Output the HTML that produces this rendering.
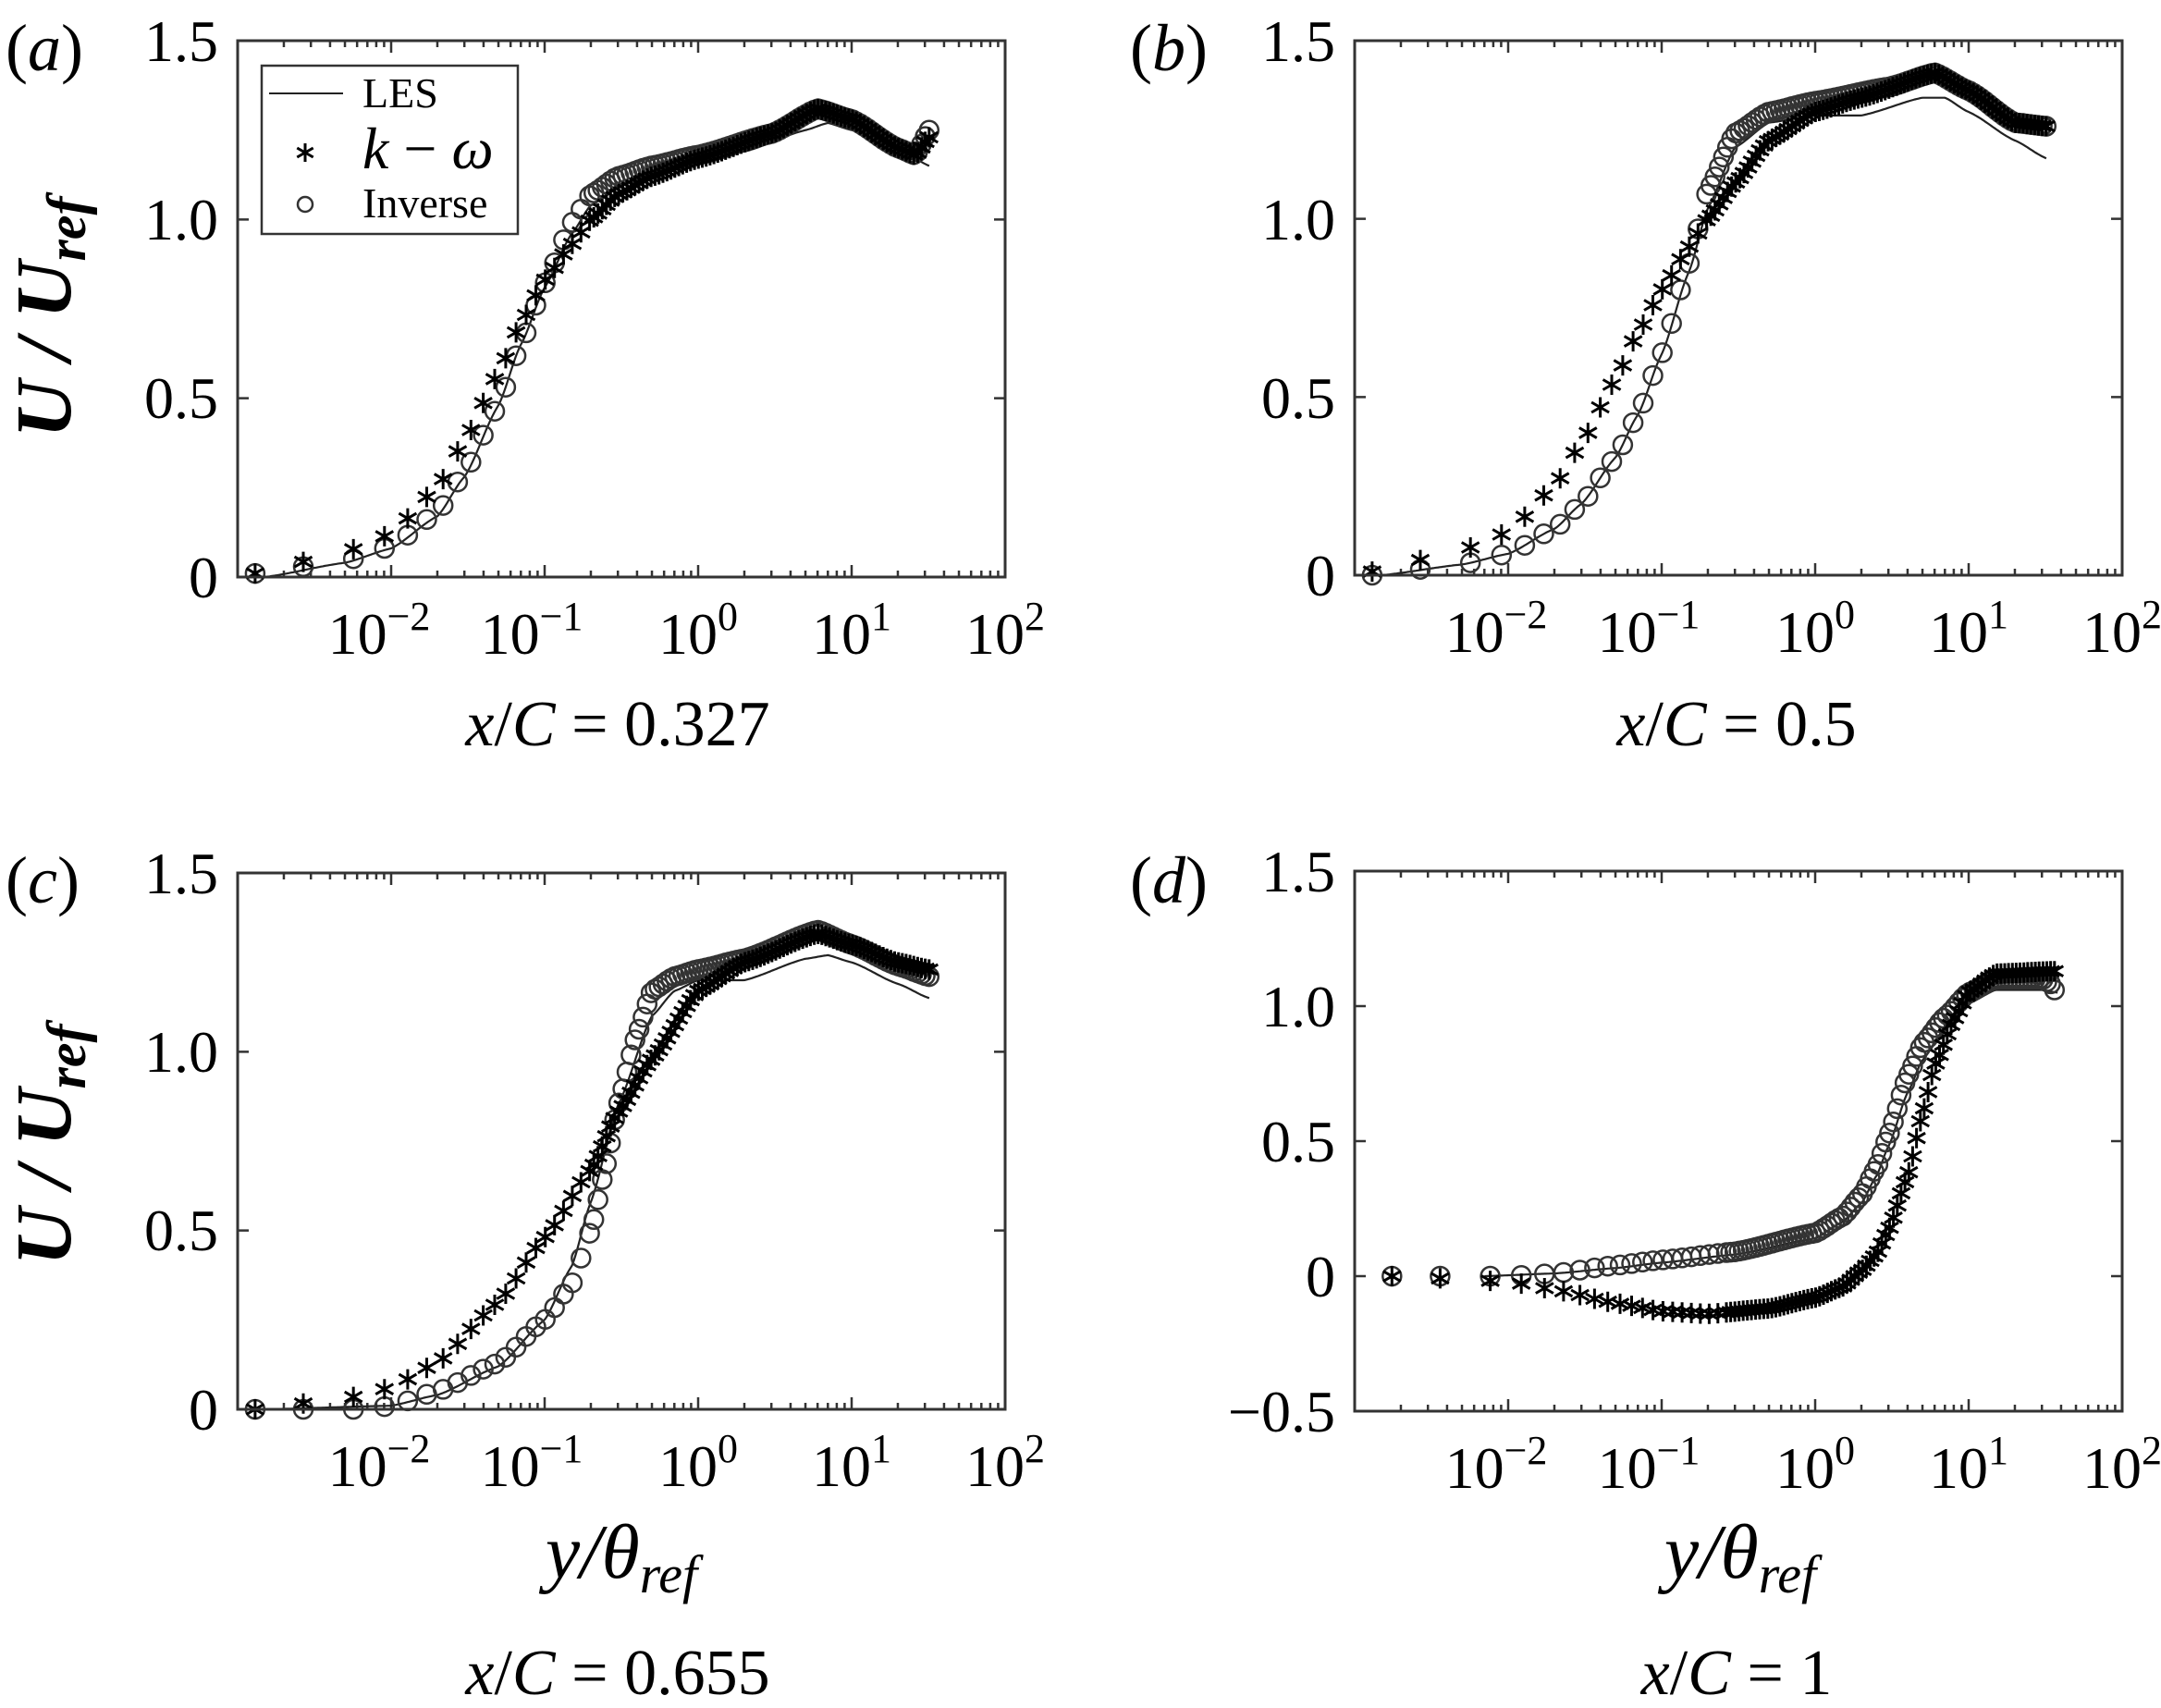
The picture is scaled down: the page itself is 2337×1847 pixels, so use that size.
<!DOCTYPE html>
<html><head><meta charset="utf-8"><style>
html,body{margin:0;padding:0;background:#fff}
svg{display:block}
text{font-family:"Liberation Serif","DejaVu Serif",serif;fill:#000}
</style></head><body>
<svg id="s" width="2337" height="1847" viewBox="0 0 2337 1847" xmlns="http://www.w3.org/2000/svg">
<rect width="2337" height="1847" fill="#fff"/>
<g id="plots"></g>
<text x="6" y="76" font-size="72">(<tspan font-style="italic">a</tspan>)</text>
<text x="1222" y="76" font-size="72">(<tspan font-style="italic">b</tspan>)</text>
<text x="6" y="976" font-size="72">(<tspan font-style="italic">c</tspan>)</text>
<text x="1222" y="976" font-size="72">(<tspan font-style="italic">d</tspan>)</text>
<g font-size="64" text-anchor="end">
<text x="236" y="66">1.5</text><text x="236" y="259">1.0</text><text x="236" y="452">0.5</text><text x="236" y="646">0</text>
<text x="1444" y="66">1.5</text><text x="1444" y="259">1.0</text><text x="1444" y="452">0.5</text><text x="1444" y="644">0</text>
<text x="236" y="966">1.5</text><text x="236" y="1159">1.0</text><text x="236" y="1352">0.5</text><text x="236" y="1546">0</text>
<text x="1444" y="964">1.5</text><text x="1444" y="1110">1.0</text><text x="1444" y="1256">0.5</text><text x="1444" y="1402">0</text><text x="1444" y="1548">−0.5</text>
</g>
<g font-size="64" text-anchor="middle">
<text x="410" y="707">10<tspan dy="-26" font-size="44">−2</tspan></text>
<text x="575" y="707">10<tspan dy="-26" font-size="44">−1</tspan></text>
<text x="755" y="707">10<tspan dy="-26" font-size="44">0</tspan></text>
<text x="921" y="707">10<tspan dy="-26" font-size="44">1</tspan></text>
<text x="1087" y="707">10<tspan dy="-26" font-size="44">2</tspan></text>
<text x="1618" y="705">10<tspan dy="-26" font-size="44">−2</tspan></text>
<text x="1783" y="705">10<tspan dy="-26" font-size="44">−1</tspan></text>
<text x="1963" y="705">10<tspan dy="-26" font-size="44">0</tspan></text>
<text x="2129" y="705">10<tspan dy="-26" font-size="44">1</tspan></text>
<text x="2295" y="705">10<tspan dy="-26" font-size="44">2</tspan></text>
<text x="410" y="1607">10<tspan dy="-26" font-size="44">−2</tspan></text>
<text x="575" y="1607">10<tspan dy="-26" font-size="44">−1</tspan></text>
<text x="755" y="1607">10<tspan dy="-26" font-size="44">0</tspan></text>
<text x="921" y="1607">10<tspan dy="-26" font-size="44">1</tspan></text>
<text x="1087" y="1607">10<tspan dy="-26" font-size="44">2</tspan></text>
<text x="1618" y="1609">10<tspan dy="-26" font-size="44">−2</tspan></text>
<text x="1783" y="1609">10<tspan dy="-26" font-size="44">−1</tspan></text>
<text x="1963" y="1609">10<tspan dy="-26" font-size="44">0</tspan></text>
<text x="2129" y="1609">10<tspan dy="-26" font-size="44">1</tspan></text>
<text x="2295" y="1609">10<tspan dy="-26" font-size="44">2</tspan></text>
</g>
<text transform="translate(76,343) rotate(-90)" font-size="86" font-weight="bold" font-style="italic" text-anchor="middle">U / U<tspan dy="16" font-size="60">ref</tspan></text>
<text transform="translate(76,1238) rotate(-90)" font-size="86" font-weight="bold" font-style="italic" text-anchor="middle">U / U<tspan dy="16" font-size="60">ref</tspan></text>
<g font-size="70" text-anchor="middle">
<text x="668" y="806"><tspan font-style="italic">x</tspan>/<tspan font-style="italic">C</tspan> = 0.327</text>
<text x="1878" y="806"><tspan font-style="italic">x</tspan>/<tspan font-style="italic">C</tspan> = 0.5</text>
<text x="668" y="1832"><tspan font-style="italic">x</tspan>/<tspan font-style="italic">C</tspan> = 0.655</text>
<text x="1878" y="1832"><tspan font-style="italic">x</tspan>/<tspan font-style="italic">C</tspan> = 1</text>
<text x="672" y="1706" font-size="84" font-style="italic">y/θ<tspan dy="16" font-size="58">ref</tspan></text>
<text x="1882" y="1706" font-size="84" font-style="italic">y/θ<tspan dy="16" font-size="58">ref</tspan></text>
</g>
<rect x="283" y="71" width="277" height="182" fill="#fff" stroke="#333" stroke-width="2.5"/>
<line x1="291" y1="101" x2="371" y2="101" stroke="#222" stroke-width="2"/>
<text x="392" y="116" font-size="46">LES</text>
<g id="legstar"></g>
<text x="392" y="182" font-size="64" font-style="italic">k <tspan font-style="normal">−</tspan> ω</text>
<circle cx="330" cy="221" r="8" fill="none" stroke="#333" stroke-width="2.5"/>
<text x="392" y="235" font-size="46">Inverse</text>
</svg>
<script>
const NS="http://www.w3.org/2000/svg";
const G=document.getElementById('plots');
function el(t,a,p){const e=document.createElementNS(NS,t);for(const k in a)e.setAttribute(k,a[k]);(p||G).appendChild(e);return e;}
function star(x,y,s,p){let d='';for(let i=0;i<3;i++){const a=Math.PI/2+i*Math.PI/3;const dx=s*Math.cos(a),dy=s*Math.sin(a);d+=`M${(x-dx).toFixed(1)} ${(y-dy).toFixed(1)}L${(x+dx).toFixed(1)} ${(y+dy).toFixed(1)}`;}el('path',{d:d,stroke:'#000','stroke-width':3,fill:'none'},p);}
star(330,165,10,document.getElementById('legstar'));
function interp(pts,lx){
  if(lx<=Math.log10(pts[0][0]))return pts[0][1];
  for(let i=1;i<pts.length;i++){const a=Math.log10(pts[i-1][0]),b=Math.log10(pts[i][0]);if(lx<=b){const t=(lx-a)/(b-a);const s=t*t*(3-2*t)*0.3+t*0.7;return pts[i-1][1]+(pts[i][1]-pts[i-1][1])*s;}}
  return pts[pts.length-1][1];}
const panels=[
 {x0:257,x1:1087,y0:44,y1:624,ymin:0,ymax:1.5,h:1.3e-3,xmax:32,
  les:[[1.5e-3,0],[0.005,0.04],[0.01,0.08],[0.02,0.17],[0.03,0.28],[0.05,0.48],[0.07,0.65],[0.1,0.81],[0.15,0.96],[0.2,1.04],[0.3,1.09],[0.5,1.13],[1,1.16],[2,1.19],[5,1.25],[7,1.27],[10,1.25],[20,1.2],[32,1.15]],
  inv:[[1.3e-3,0.01],[0.005,0.045],[0.01,0.085],[0.02,0.18],[0.03,0.29],[0.05,0.48],[0.07,0.65],[0.1,0.82],[0.15,0.99],[0.2,1.07],[0.3,1.12],[0.5,1.15],[1,1.18],[3,1.24],[6,1.31],[10,1.28],[20,1.2],[26,1.18],[32,1.25]],
  kw:[[1.3e-3,0.01],[0.005,0.07],[0.01,0.12],[0.02,0.25],[0.03,0.38],[0.05,0.57],[0.07,0.71],[0.1,0.83],[0.15,0.93],[0.2,1.0],[0.3,1.07],[0.5,1.12],[1,1.17],[3,1.24],[6,1.31],[10,1.28],[20,1.2],[26,1.18],[32,1.23]]},
 {x0:1465,x1:2295,y0:44,y1:622,ymin:0,ymax:1.5,h:1.3e-3,xmax:32,
  les:[[1.5e-3,0],[0.005,0.03],[0.01,0.06],[0.02,0.13],[0.03,0.2],[0.05,0.33],[0.07,0.45],[0.1,0.62],[0.15,0.85],[0.2,1.03],[0.3,1.2],[0.5,1.27],[1,1.29],[2,1.29],[5,1.34],[7,1.34],[10,1.3],[20,1.22],[32,1.17]],
  inv:[[1.3e-3,0],[0.005,0.03],[0.01,0.06],[0.02,0.13],[0.03,0.2],[0.05,0.33],[0.07,0.45],[0.1,0.62],[0.15,0.87],[0.2,1.08],[0.3,1.24],[0.5,1.3],[1,1.33],[3,1.37],[6,1.41],[10,1.36],[20,1.27],[32,1.26]],
  kw:[[1.3e-3,0.01],[0.005,0.07],[0.01,0.12],[0.02,0.25],[0.03,0.37],[0.05,0.55],[0.07,0.68],[0.1,0.8],[0.15,0.92],[0.2,1.0],[0.3,1.1],[0.5,1.22],[1,1.3],[2,1.34],[6,1.41],[10,1.36],[20,1.27],[32,1.26]]},
 {x0:257,x1:1087,y0:944,y1:1524,ymin:0,ymax:1.5,h:1.3e-3,xmax:32,
  les:[[1.5e-3,0],[0.01,0.01],[0.02,0.04],[0.05,0.12],[0.1,0.25],[0.15,0.4],[0.2,0.58],[0.3,0.85],[0.5,1.1],[0.7,1.17],[1,1.2],[2,1.2],[5,1.26],[7,1.27],[10,1.25],[20,1.19],[32,1.15]],
  inv:[[1.3e-3,0],[0.007,0.0],[0.01,0.01],[0.02,0.05],[0.05,0.13],[0.1,0.25],[0.15,0.35],[0.2,0.5],[0.25,0.68],[0.3,0.85],[0.4,1.05],[0.5,1.17],[0.7,1.21],[1,1.23],[2,1.26],[6,1.34],[10,1.3],[20,1.24],[32,1.21]],
  kw:[[1.3e-3,0],[0.005,0.03],[0.01,0.06],[0.02,0.13],[0.05,0.3],[0.1,0.48],[0.2,0.67],[0.3,0.83],[0.5,0.98],[1,1.17],[2,1.25],[6,1.33],[10,1.3],[20,1.25],[32,1.23]]},
 {x0:1465,x1:2295,y0:942,y1:1526,ymin:-0.5,ymax:1.5,h:1.75e-3,xmax:38,
  les:[[0.007,0],[0.02,0.01],[0.05,0.03],[0.1,0.05],[0.3,0.08],[1,0.14],[1.5,0.2],[2,0.27],[2.5,0.37],[3,0.48],[4,0.68],[5,0.8],[7,0.92],[10,1.01],[15,1.06],[30,1.06],[38,1.05]],
  inv:[[1.7e-3,0],[0.01,0],[0.02,0.01],[0.05,0.04],[0.1,0.06],[0.3,0.09],[1,0.16],[1.5,0.22],[2,0.3],[2.5,0.4],[3,0.52],[4,0.74],[5,0.86],[7,0.96],[10,1.05],[15,1.1],[30,1.1],[35,1.08],[38,1.03]],
  kw:[[1.7e-3,0],[0.01,-0.02],[0.02,-0.05],[0.05,-0.1],[0.1,-0.13],[0.2,-0.14],[0.5,-0.12],[1,-0.08],[1.5,-0.04],[2,0.02],[2.5,0.08],[3,0.17],[4,0.37],[5,0.6],[6,0.78],[8,0.95],[10,1.05],[15,1.12],[38,1.13]]}
];
panels.forEach(p=>{
  const X=x=>p.x0+(Math.log10(x)+3)*(p.x1-p.x0)/5;
  const Y=y=>p.y1-(y-p.ymin)/(p.ymax-p.ymin)*(p.y1-p.y0);
  let d='';
  for(let e=-3;e<2;e++)for(let m=1;m<10;m++){const x=X(Math.pow(10,e)*m);const L=m==1?13:7;if(m==1&&e==-3)continue;d+=`M${x} ${p.y1}v${-L}M${x} ${p.y0}v${L}`;}
  for(let v=p.ymin+0.5;v<p.ymax-0.01;v+=0.5){const y=Y(v);d+=`M${p.x0} ${y}h12M${p.x1} ${y}h-12`;}
  el('path',{d:d,stroke:'#333','stroke-width':2.5,fill:'none'});
  const r=1.059;const xs=[];for(let j=1;;j++){const x=p.h*(Math.pow(r,j)-1)/(r-1);if(x>p.xmax)break;if(j<=2||(j<40&&j%2==0)||j>=40)xs.push(x);}
  let ld='';const xa=p.les[0][0];for(let i=0;i<=400;i++){const lx=Math.log10(xa)+i/400*(Math.log10(p.xmax)-Math.log10(xa));ld+=(i?'L':'M')+(p.x0+(lx+3)*(p.x1-p.x0)/5).toFixed(1)+' '+Y(interp(p.les,lx)).toFixed(1);}
  el('path',{d:ld,stroke:'#222','stroke-width':2.2,fill:'none'});
  xs.forEach(x=>{if(x<p.inv[0][0]*0.9)return;el('circle',{cx:X(x).toFixed(1),cy:Y(interp(p.inv,Math.log10(x))).toFixed(1),r:10,fill:'none',stroke:'#333','stroke-width':2.5});});
  xs.forEach(x=>{if(x<p.kw[0][0]*0.9)return;star(X(x),Y(interp(p.kw,Math.log10(x))),11);});
  el('rect',{x:p.x0,y:p.y0,width:p.x1-p.x0,height:p.y1-p.y0,fill:'none',stroke:'#333','stroke-width':3});
});
</script>
</body></html>
